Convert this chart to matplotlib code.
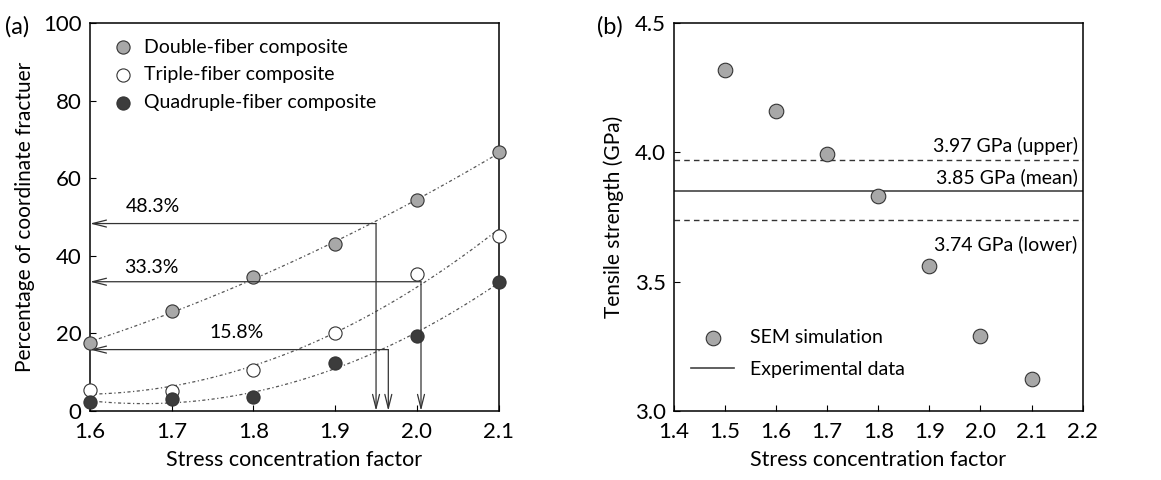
import numpy as np
import matplotlib
matplotlib.use("Agg")
import matplotlib.pyplot as plt

plt.rcParams['font.family'] = ['Lato', 'DejaVu Sans']

# panel (a) data
scf_a = [1.6, 1.7, 1.8, 1.9, 2.0, 2.1]
double_fiber = [17.5, 25.8, 34.5, 43.0, 54.3, 66.7]
triple_fiber = [5.5, 5.0, 10.5, 20.0, 35.3, 45.0]
quad_fiber = [2.3, 3.0, 3.5, 12.3, 19.3, 33.3]

# marked percentages and where they cross the fits
mark_pct = [48.3, 33.3, 15.8]
mark_scf = [1.95, 2.005, 1.965]
mark_labels = ['48.3%', '33.3%', '15.8%']

# panel (b) data
scf_b = [1.5, 1.6, 1.7, 1.8, 1.9, 2.0, 2.1]
strength = [4.32, 4.16, 3.995, 3.83, 3.56, 3.29, 3.125]
exp_mean = 3.85
exp_upper = 3.97
exp_lower = 3.74

fig = plt.figure(figsize=(11.61, 4.8), dpi=100)
ax1 = fig.add_axes([0.0775, 0.144, 0.352, 0.808])
ax2 = fig.add_axes([0.5805, 0.144, 0.352, 0.808])

fine = np.linspace(1.6, 2.1, 100)
series = [
    (double_fiber, '#a8a8a8', 'Double-fiber composite'),
    (triple_fiber, 'white', 'Triple-fiber composite'),
    (quad_fiber, '#3c3c3c', 'Quadruple-fiber composite'),
]
for vals, fc, lab in series:
    coef = np.polyfit(scf_a, vals, 2)
    ax1.plot(fine, np.polyval(coef, fine), color='#555555', lw=0.9,
             ls=(0, (2.5, 2, 1, 2)), zorder=2)
    ax1.scatter(scf_a, vals, s=90, facecolor=fc, edgecolor='#333333',
                linewidth=0.8, label=lab, zorder=3, clip_on=False)

arrow_kw = dict(arrowstyle='->,head_length=1.0,head_width=0.25',
                color='#333333', lw=0.9, shrinkA=0, shrinkB=0)
for p, xc in zip(mark_pct, mark_scf):
    ax1.annotate('', xy=(1.6, p), xytext=(xc, p), arrowprops=arrow_kw)
    ax1.annotate('', xy=(xc, 0), xytext=(xc, p), arrowprops=arrow_kw)

label_pos = [(1.677, 52.6), (1.675, 36.9), (1.779, 20.1)]
for (lx, ly), txt in zip(label_pos, mark_labels):
    ax1.text(lx, ly, txt, fontsize=14, ha='center', va='center')

ax1.set_xlim(1.6, 2.1)
ax1.set_ylim(0, 100)
ax1.set_xticks(scf_a)
ax1.set_xticklabels(['1.6', '1.7', '1.8', '1.9', '2.0', '2.1'])
ax1.set_yticks([0, 20, 40, 60, 80, 100])
ax1.set_xlabel('Stress concentration factor', fontsize=15.5, labelpad=6)
ax1.set_ylabel('Percentage of coordinate fractuer', fontsize=15, labelpad=6)
ax1.legend(loc='upper left', frameon=False, fontsize=14, handletextpad=0.6,
           handlelength=1.0, borderaxespad=0.4, labelspacing=0.55,
           bbox_to_anchor=(0.018, 1.0))

# panel (b)
ax2.axhline(exp_upper, color='#333333', lw=1.0, ls=(0, (4, 3)))
ax2.axhline(exp_lower, color='#333333', lw=1.0, ls=(0, (4, 3)))
ax2.axhline(exp_mean, color='#444444', lw=1.2, label='Experimental data')
ax2.scatter(scf_b, strength, s=110, facecolor='#a8a8a8', edgecolor='#333333',
            linewidth=0.8, label='SEM simulation', zorder=3)
ax2.text(2.19, exp_upper + 0.02, '3.97 GPa (upper)', fontsize=14,
         ha='right', va='bottom')
ax2.text(2.19, exp_mean + 0.02, '3.85 GPa (mean)', fontsize=14,
         ha='right', va='bottom')
ax2.text(2.19, exp_lower - 0.06, '3.74 GPa (lower)', fontsize=14,
         ha='right', va='top')

ax2.set_xlim(1.4, 2.2)
ax2.set_ylim(3.0, 4.5)
ax2.set_xticks([1.4, 1.5, 1.6, 1.7, 1.8, 1.9, 2.0, 2.1, 2.2])
ax2.set_yticks([3.0, 3.5, 4.0, 4.5])
ax2.set_yticklabels(['3.0', '3.5', '4.0', '4.5'])
ax2.set_xlabel('Stress concentration factor', fontsize=15.5, labelpad=6)
ax2.set_ylabel('Tensile strength (GPa)', fontsize=15, labelpad=8)
handles, labels = ax2.get_legend_handles_labels()
ax2.legend(handles[::-1], labels[::-1], loc='lower left', frameon=False,
           fontsize=14, bbox_to_anchor=(0.0, 0.04), handlelength=2.2,
           labelspacing=0.75)

for ax in (ax1, ax2):
    ax.tick_params(direction='in', length=4, labelsize=16)
    ax.tick_params(axis='x', pad=8)
    ax.tick_params(axis='y', pad=6)
    for s in ax.spines.values():
        s.set_linewidth(1.1)

fig.text(0.004, 0.93, '(a)', fontsize=17)
fig.text(0.514, 0.93, '(b)', fontsize=17)

fig.savefig('out.png', dpi=100, facecolor='white')
